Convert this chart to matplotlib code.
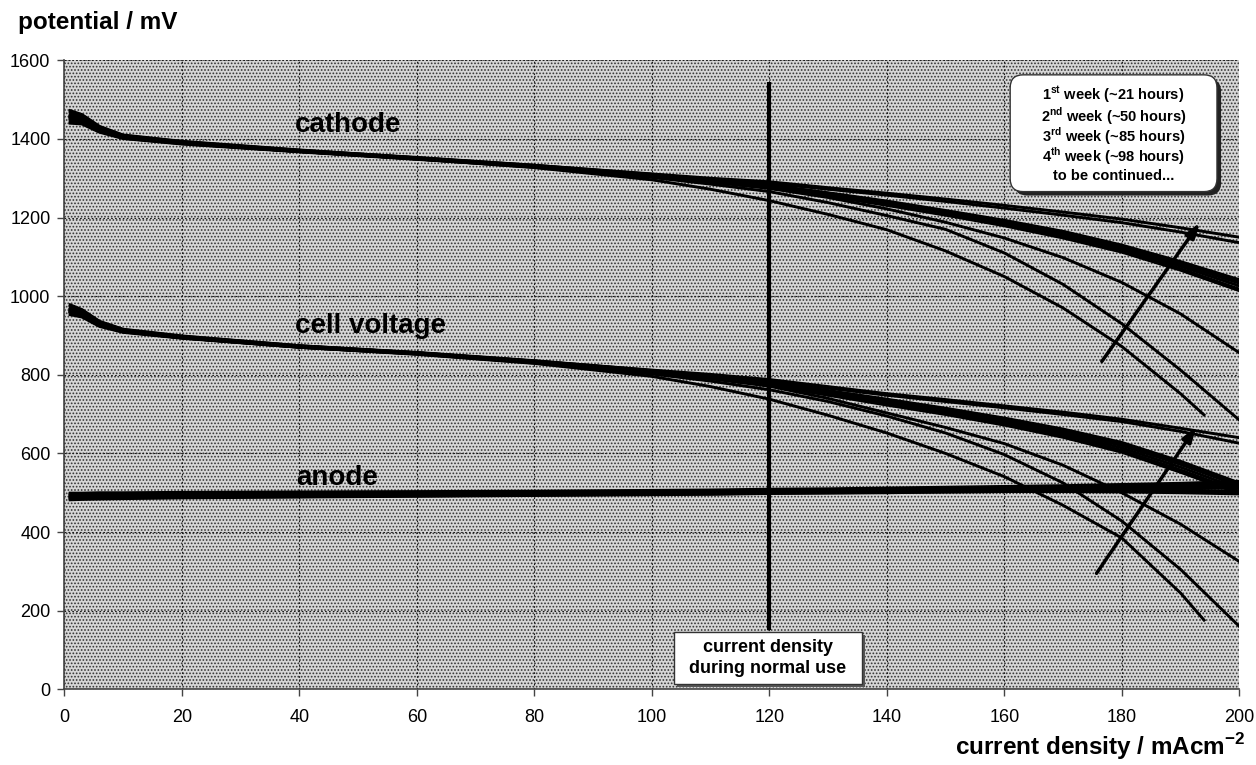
import matplotlib
matplotlib.use('Agg')
import matplotlib.pyplot as plt
from matplotlib.patches import FancyBboxPatch, Rectangle

plt.rcParams['font.family'] = ['Liberation Sans', 'DejaVu Sans']
plt.rcParams['mathtext.fontset'] = 'custom'
plt.rcParams['mathtext.rm'] = 'Liberation Sans'
plt.rcParams['mathtext.bf'] = 'Liberation Sans:bold'
plt.rcParams['hatch.linewidth'] = 0.8

# current density steps of the polarisation runs (mA/cm2)
cd = [1, 3, 6, 10, 20, 40, 60, 80, 100, 110, 120, 130, 140, 150, 160, 170, 180, 190, 200]
# one run was stopped a bit before 200
cd_short = [1, 3, 6, 10, 20, 40, 60, 80, 100, 110, 120, 130, 140, 150, 160, 170, 180, 190, 194]

# cathode potential, mV (one list per run)
cathode_runs = [
    [1462, 1455, 1428, 1408, 1392, 1371, 1352, 1333, 1311, 1300, 1291, 1276, 1262, 1247, 1231, 1214, 1196, 1174, 1150],
    [1455, 1450, 1424, 1405, 1390, 1369, 1350, 1331, 1309, 1298, 1287, 1272, 1257, 1241, 1224, 1206, 1187, 1163, 1136],
    [1468, 1460, 1430, 1409, 1393, 1371, 1353, 1333, 1310, 1296, 1283, 1263, 1242, 1218, 1193, 1165, 1130, 1088, 1042],
    [1460, 1452, 1426, 1406, 1391, 1370, 1351, 1332, 1308, 1294, 1281, 1260, 1239, 1215, 1190, 1161, 1125, 1081, 1033],
    [1450, 1446, 1422, 1404, 1389, 1368, 1350, 1330, 1307, 1293, 1279, 1258, 1236, 1212, 1186, 1157, 1121, 1076, 1026],
    [1445, 1441, 1419, 1402, 1388, 1368, 1349, 1330, 1306, 1292, 1278, 1256, 1233, 1209, 1182, 1152, 1116, 1070, 1018],
    [1472, 1462, 1432, 1410, 1394, 1372, 1352, 1331, 1309, 1295, 1282, 1262, 1240, 1216, 1191, 1163, 1128, 1085, 1038],
    [1440, 1438, 1417, 1401, 1387, 1367, 1348, 1329, 1305, 1291, 1277, 1255, 1231, 1206, 1179, 1148, 1112, 1066, 1014],
    [1458, 1450, 1425, 1405, 1390, 1369, 1350, 1330, 1305, 1290, 1274, 1251, 1222, 1188, 1148, 1098, 1035, 955, 856],
    [1452, 1446, 1421, 1403, 1389, 1368, 1349, 1328, 1302, 1285, 1266, 1238, 1205, 1170, 1110, 1030, 930, 812, 685],
]
cathode_short = [1456, 1448, 1423, 1404, 1389, 1368, 1349, 1327, 1296, 1272, 1243, 1208, 1169, 1115, 1050, 970, 872, 752, 698]

# cell voltage, mV
cell_runs = [
    [968, 960, 932, 913, 897, 873, 856, 835, 812, 801, 788, 770, 752, 737, 721, 705, 687, 664, 640],
    [960, 953, 928, 911, 895, 871, 854, 833, 810, 799, 785, 766, 748, 732, 716, 699, 681, 656, 626],
    [975, 964, 935, 915, 898, 874, 857, 836, 811, 797, 782, 760, 738, 715, 690, 662, 628, 580, 525],
    [970, 959, 931, 913, 897, 873, 856, 834, 809, 795, 779, 756, 733, 710, 684, 655, 620, 572, 517],
    [962, 954, 928, 911, 895, 872, 855, 833, 808, 794, 777, 753, 729, 706, 680, 650, 614, 565, 510],
    [957, 950, 925, 909, 894, 871, 854, 832, 807, 792, 775, 751, 726, 702, 676, 645, 608, 558, 503],
    [978, 966, 936, 916, 899, 874, 856, 835, 810, 796, 781, 758, 736, 713, 688, 659, 624, 576, 521],
    [953, 947, 923, 908, 893, 870, 853, 831, 806, 791, 773, 748, 723, 699, 672, 641, 603, 552, 498],
    [965, 955, 929, 911, 895, 871, 854, 832, 806, 790, 771, 740, 703, 666, 625, 570, 500, 420, 325],
    [960, 950, 926, 910, 894, 870, 853, 830, 802, 784, 762, 732, 695, 652, 597, 525, 428, 305, 160],
]
cell_short = [963, 952, 927, 910, 894, 870, 852, 829, 796, 770, 738, 697, 652, 600, 541, 468, 385, 245, 176]

# anode potential, mV
anode_runs = [
    [486, 487, 488, 489, 490, 492, 494, 496, 498, 499, 501, 502, 503, 504, 506, 507, 508, 510, 512],
    [493, 493, 494, 494, 495, 496, 497, 499, 501, 502, 504, 505, 507, 508, 510, 511, 513, 516, 519],
    [482, 483, 484, 485, 487, 489, 491, 493, 495, 496, 498, 499, 500, 502, 503, 504, 505, 505, 504],
    [497, 497, 497, 498, 498, 499, 500, 502, 504, 505, 507, 508, 510, 512, 514, 516, 518, 521, 526],
    [490, 490, 491, 492, 492, 494, 496, 498, 500, 502, 504, 505, 507, 508, 510, 512, 514, 516, 520],
    [484, 485, 486, 487, 488, 490, 492, 494, 496, 497, 499, 500, 501, 502, 503, 503, 502, 500, 497],
    [495, 495, 496, 496, 497, 498, 499, 501, 503, 504, 505, 506, 507, 508, 509, 508, 507, 504, 500],
    [489, 490, 490, 491, 492, 493, 495, 497, 499, 500, 501, 503, 504, 506, 507, 508, 510, 512, 514],
    [499, 499, 500, 500, 501, 502, 503, 504, 506, 507, 509, 510, 512, 514, 516, 518, 521, 524, 529],
]

week_notes = [
    r'1$^{\mathbf{st}}$ week (~21 hours)',
    r'2$^{\mathbf{nd}}$ week (~50 hours)',
    r'3$^{\mathbf{rd}}$ week (~85 hours)',
    r'4$^{\mathbf{th}}$ week (~98 hours)',
    'to be continued...',
]
normal_use_cd = 120

fig = plt.figure(figsize=(12.56, 7.65), dpi=100)
ax = fig.add_axes([64.3 / 1256, 75.7 / 765, 1175 / 1256, 629 / 765])

# stippled grey plot area
ax.set_facecolor('#d6d6d6')
ax.add_patch(Rectangle((0, 0), 1, 1, transform=ax.transAxes, facecolor='none',
                       edgecolor='#333333', hatch='.....', lw=0, zorder=0.1))
ax.set_axisbelow(True)
ax.grid(True, color='#1a1a1a', linestyle=(0, (1.5, 2)), linewidth=0.8)

lw = 2.1
for run in cathode_runs + cell_runs + anode_runs:
    ax.plot(cd, run, color='black', lw=lw, zorder=3)
ax.plot(cd_short, cathode_short, color='black', lw=lw, zorder=3)
ax.plot(cd_short, cell_short, color='black', lw=lw, zorder=3)

ax.set_xlim(0, 200)
ax.set_ylim(0, 1600)
ax.set_xticks(range(0, 201, 20))
ax.set_yticks(range(0, 1601, 200))
for side in ('top', 'right'):
    ax.spines[side].set_visible(False)
for side in ('left', 'bottom'):
    ax.spines[side].set_color('#444444')
    ax.spines[side].set_linewidth(1.2)
ax.tick_params(axis='both', direction='out', length=5, width=1, color='#444444', labelsize=13)
ax.tick_params(axis='y', pad=5)
ax.tick_params(axis='x', pad=9)

# curve names
ax.text(39.3, 1417, 'cathode', fontsize=20, fontweight='bold', va='baseline', zorder=4)
ax.text(39.3, 907, 'cell voltage', fontsize=20, fontweight='bold', va='baseline', zorder=4)
ax.text(39.5, 520, 'anode', fontsize=20, fontweight='bold', va='baseline', zorder=4)

# normal operating point
ax.vlines(normal_use_cd, 150, 1545, color='black', lw=3, zorder=4)
ax.add_patch(Rectangle((104.3, 5.5), 32, 133, facecolor='#555555', lw=0, zorder=5))
ax.add_patch(Rectangle((103.7, 13), 32, 133, facecolor='white', edgecolor='#333333', lw=1, zorder=6))
ax.text(119.7, 80, 'current density\nduring normal use', ha='center', va='center',
        fontsize=13, fontweight='bold', linespacing=1.3, zorder=7)

# week legend with rounded shadow box
asp = 5.875 / 0.3929
ax.add_patch(FancyBboxPatch((161.7, 1256), 35.2, 297, boxstyle='round,pad=0,rounding_size=2.2',
                            mutation_aspect=asp, facecolor='#222222', lw=0, zorder=5))
ax.add_patch(FancyBboxPatch((161, 1266), 35.2, 297, boxstyle='round,pad=0,rounding_size=2.2',
                            mutation_aspect=asp, facecolor='white', edgecolor='#333333', lw=1, zorder=6))
for i, note in enumerate(week_notes):
    ax.text(178.6, 1510 - i * 51, note, ha='center', va='center', fontsize=10.5,
            fontweight='bold', zorder=7)

# improvement arrows
arrow = dict(arrowstyle='-|>,head_length=0.9,head_width=0.3', lw=2.5, color='black',
             shrinkA=0, shrinkB=0)
ax.annotate('', xy=(193.3, 1187), xytext=(176.6, 834), arrowprops=arrow, zorder=8)
ax.annotate('', xy=(192.7, 668), xytext=(175.7, 295), arrowprops=arrow, zorder=8)

fig.text(18 / 1256, 1 - 23 / 765, 'potential / mV', fontsize=17.5, fontweight='bold',
         ha='left', va='center')
fig.text(1245 / 1256, 18 / 765, r'current density / mAcm$^{\mathbf{-2}}$', fontsize=17.5,
         fontweight='bold', ha='right', va='center')

fig.savefig('out.png', dpi=100, facecolor='white')
